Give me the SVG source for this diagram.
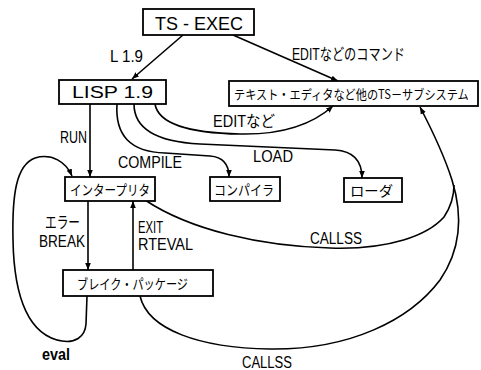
<svg xmlns="http://www.w3.org/2000/svg" width="481" height="370" viewBox="0 0 481 370">
<style>
  .box{fill:#fff;stroke:#000;stroke-width:1.8}
  .ln{fill:none;stroke:#000;stroke-width:1.6}
  text{font-family:"Liberation Sans","Noto Sans CJK JP",sans-serif;fill:#000}
  .jp{font-family:"Noto Sans CJK JP",sans-serif}
  .lb{font-size:16px}
</style>
<defs>
  <marker id="ah" viewBox="0 0 10 10" refX="10" refY="5" markerWidth="7" markerHeight="7" markerUnits="userSpaceOnUse" orient="auto">
    <path d="M0,1 L10,5 L0,9 z" fill="#000"/>
  </marker>
</defs>

<g id="connectors">
  <path class="ln" d="M183,35 L132,79" marker-end="url(#ah)"/>
  <path class="ln" d="M233,35 L338,81" marker-end="url(#ah)"/>
  <path class="ln" d="M155,104 C158,122 185,133 240,134 C285,135 315,122 333,106" marker-end="url(#ah)"/>
  <path class="ln" d="M117,104 C115,135 130,152 165,153 L210,156 C224,157 229,165 229,177" marker-end="url(#ah)"/>
  <path class="ln" d="M134,104 C134,130 160,142 200,144 L335,150 C352,151 362,160 362,178" marker-end="url(#ah)"/>
  <path class="ln" d="M90,104 V177" marker-end="url(#ah)"/>
  <path class="ln" d="M87,296 L86,324 C85,338 74,343 62,341 C30,336 14,300 13,240 C12,195 16,165 35,158 C52,153 66,162 72,176" marker-end="url(#ah)"/>
  <path class="ln" d="M88,201 V270" marker-end="url(#ah)"/>
  <path class="ln" d="M133,270 V201" marker-end="url(#ah)"/>
  <path class="ln" d="M145,200 C190,230 260,246 330,248 C390,250 428,235 444,217 C452,205 454,195 454,185"/>
  <path class="ln" d="M140,296 C148,330 200,348 270,349 C350,350 410,320 440,280 C462,248 462,212 452,180 C444,155 432,130 420,107" marker-end="url(#ah)"/>

  <text class="lb" x="110" y="62" textLength="33" lengthAdjust="spacingAndGlyphs">L 1.9</text>
  <text class="lb" x="292" y="60" font-size="15" textLength="113" lengthAdjust="spacingAndGlyphs">EDITなどのコマンド</text>
  <text class="lb" x="213" y="127" font-size="15" textLength="62" lengthAdjust="spacingAndGlyphs">EDITなど</text>
  <text class="lb" x="60" y="143" textLength="27" lengthAdjust="spacingAndGlyphs">RUN</text>
  <text class="lb" x="118" y="168" textLength="64" lengthAdjust="spacingAndGlyphs">COMPILE</text>
  <text class="lb" x="253" y="162" textLength="40" lengthAdjust="spacingAndGlyphs">LOAD</text>
  <text class="lb jp" x="45" y="228" font-size="14" textLength="35" lengthAdjust="spacingAndGlyphs">エラー</text>
  <text class="lb" x="39" y="247" textLength="46" lengthAdjust="spacingAndGlyphs">BREAK</text>
  <text class="lb" x="138" y="233" font-size="15" textLength="25" lengthAdjust="spacingAndGlyphs">EXIT</text>
  <text class="lb" x="138" y="250" font-size="15" textLength="55" lengthAdjust="spacingAndGlyphs">RTEVAL</text>
  <text class="lb" x="310" y="244" textLength="52" lengthAdjust="spacingAndGlyphs">CALLSS</text>
  <text class="lb" x="42" y="360" font-size="15" font-weight="bold" textLength="28" lengthAdjust="spacingAndGlyphs">eval</text>
  <text class="lb" x="242" y="368" textLength="50" lengthAdjust="spacingAndGlyphs">CALLSS</text>
</g>

<g id="ts-exec">
  <rect class="box" x="143" y="9" width="111" height="26"/>
  <text x="155" y="30" font-size="19" textLength="88" lengthAdjust="spacingAndGlyphs">TS - EXEC</text>
</g>
<g id="lisp">
  <rect class="box" x="59" y="80" width="107" height="24"/>
  <text x="72" y="98" font-size="16" textLength="81" lengthAdjust="spacingAndGlyphs">LISP 1.9</text>
</g>
<g id="subsystems">
  <rect class="box" x="229" y="81" width="249" height="25"/>
  <text class="jp" transform="translate(234,99) scale(0.86,1)" font-size="13">テキスト・エディタなど他のTS－サブシステム</text>
</g>
<g id="interpreter">
  <rect class="box" x="65" y="177" width="90" height="24"/>
  <text class="jp" x="70" y="195" font-size="14" textLength="80" lengthAdjust="spacingAndGlyphs">インタープリタ</text>
</g>
<g id="compiler">
  <rect class="box" x="210" y="177" width="70" height="24"/>
  <text class="jp" x="214" y="195" font-size="14" textLength="60" lengthAdjust="spacingAndGlyphs">コンパイラ</text>
</g>
<g id="loader">
  <rect class="box" x="344" y="178" width="58" height="24"/>
  <text class="jp" x="350" y="196" font-size="14" textLength="43" lengthAdjust="spacingAndGlyphs">ローダ</text>
</g>
<g id="break-package">
  <rect class="box" x="63" y="270" width="150" height="26"/>
  <text class="jp" x="77" y="289" font-size="14" textLength="111" lengthAdjust="spacingAndGlyphs">ブレイク・パッケージ</text>
</g>
</svg>
